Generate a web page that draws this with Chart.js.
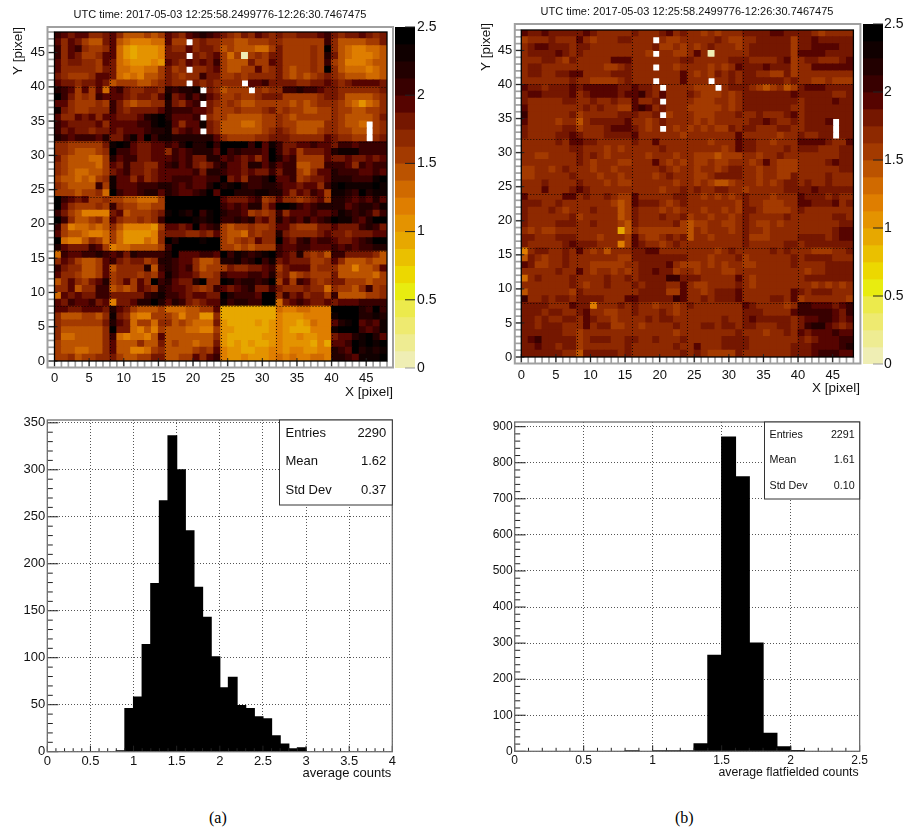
<!DOCTYPE html>
<html><head><meta charset="utf-8">
<style>
html,body{margin:0;padding:0;background:#fff;width:904px;height:832px;overflow:hidden}
canvas{position:absolute;display:block;filter:blur(0.4px)}
.cap{position:absolute;font:16px "Liberation Serif",serif;color:#000;line-height:18px}
</style>
<script src="https://cdn.jsdelivr.net/npm/chart.js@4/dist/chart.umd.js"></script>
</head><body>
<canvas id="heatA"></canvas><canvas id="barA"></canvas>
<canvas id="heatB"></canvas><canvas id="barB"></canvas>
<canvas id="histA"></canvas><canvas id="histB"></canvas>
<div class="cap" style="left:209px;top:809px">(a)</div>
<div class="cap" style="left:675px;top:809px">(b)</div>
<script>
// ---------- data ----------
const titleText = "UTC time: 2017-05-03 12:25:58.2499776-12:26:30.7467475";
// one character per pixel = colour band (base-20), '.' = empty. First row is Y=47, last is Y=0.
const heatRowsA = [
"gfeffdde fdbbbcbc fedfghgf edcedfed eddeeefg edeefede",
"fdfecbbe fba999aa fcc.dedd ccbbcccd dccccccg dbbbbcce",
"gdfgdccd fa878889 eddfdeed bcbbbaac eccccdcj dba99aab",
"gdfeccdf fa878889 eee.edef cac0cdce eccccdch eba999ab",
"fdeeddcf ea988898 fedfefeg cbbbeccf eccccdcg cb999abb",
"fdddddce eaa99aac ecd.ddef cbbccfcd ecbccdcj dbaaa9ab",
"edcccdff ea9a9bbc edcddgee ccdcdddd ecbcbcde dcbbbaab",
"feedeefe bcccbbcd edd.eded ddd.ffge eeeddeef edeffffe",
"hgfcfcfa fgeddeed hghhi.ed bccc.dcd dgghggfe edddddde",
"jgecdcgf ffedeedf iefhfhfe ccdccdee ecccccde edbbbbcd",
"ffdcccdc gecbccdd hedfg.ed cdcbbccc ccbcbcdd dcba8abd",
"iedccddd gedeeeef hgggffec ccdcccde cdccbbcc dccbbccd",
"fddfefdf feeefhij hfffg.dc cbbbbbcc dcbccccc dcbbbbce",
"gfeeeefd ffffggij ifdffied bbbaabcc dccbbbbd dcbba.cd",
"gefeedee fefffghh iefgf.ed bbbbbbcd edcbbbcd dccbb.cd",
"hgfgggfh eegifjgi ihhhhhhf dccccdde eedddddf eddcc.de",
"ddccccce ijifeeff gfhjhhjg jjjjgjfi geeffgff eggfgggg",
"ddcbbbcd jggfeeff dgfghhhf jghgggfj gefceeef hiiigggg",
"ecbbbaac hfggeeff fgfgeehh fgfefdfj hfgccccf eefeefef",
"dcbbbbac fegeeddf ghfgedeg hffehhfh fggbbccg ggfdgfgg",
"dcbaabbc efgeedef ffffgehh gffefeeg eggcbdff hgggffgf",
"cbbabacd iffdfdef fgggffgg jefdgghj ffgcdeef hhhgggij",
"dcbbbbgc ifffgggh hgfgffhj hijhgghh gffeffdg ijiiiiji",
"cccbccda jgffghhf hgffghjf jjhhhiih hfdfegfc iihgjhii",
"jgfefccd ccbbaaac jjjjjjjj feeefgcd fddcdefc hhgfgfhf",
"jfdcccdc gdccbbcc jjjjjjjj gfgfhhdf jjigfghh hhfghhgi",
"gecb9999 efbcccde ijihjgij hggfcdcd gdfffgff gihghgeg",
"jgdbbcdb fdccdcdg jjjjihij gghghefd hfgfhfgh jiigfhjj",
"gc9aabab db99998c ffefjfgh cbccdccd ffdcccee feeeghge",
"fcbba99a ca88889d eeeddedf cbbadcdd heddddef eedeeeff",
"ja99bdca ca888a9d jhjjjijj cbcdcfdd jfeghfgg feefghjj",
"hfeeegfc 9aabbbbc gjjjjjjj ccbcbccc gffggfff gfgfgghh",
"agffgghg fgehgggg hjfffggf jgihghij gfehdcdb ggeeeedb",
"dfecbbcf gedeecdh hgffdbbc hhighjgi efeeeccd fdbbbcbb",
"geddbbcf bddddhbg hgfgdbcc ceddeefg cefffcdd dbb9bbcf",
"fddcbbcf cdddcdcf igffeccd gfffggfh debcdccc ebbbbbac",
"bdfdcefh cdfcfdjg hfeehjdd jighhghj cfcgfdcd eecccbcc",
"ddfbddgg bcbcfedh gffedcdg fefgheeg edddedda dccbdgcd",
"afefeegg eeeeeghi ggfeffee jhgggfjj dgefdeec gbbbbccd",
"fegffgef 9eefhhjh fhgedeff ighhggjj aefgfeef efffgggg",
"ffeefffe hfecbbbc aaabbccf 77777777 a99aa999 jjjjhgjg",
"dbbbccbd ieda99cc cb9bb88d 77777777 98889999 ijjjhhih",
"dcccccce hfeaccad dbcbaaae 87777878 98878a99 fhijfgfi",
"dbbbbbbd jeea9b9c bbbaa99c 88777778 98777999 ijjjgfgi",
"daabbbbd ga9aa9bf bbbbbbbd 87777788 98898899 effhijhf",
"cbbbbbbd fbbbdbbe bcbbabbe 87878778 98888797 ffgjijij",
"cbbaabbd fbb99acd bbbbcdcf 98877889 98998899 hgfjhihi",
"ccdbccdd ecbbccee bbccfdfg 98898889 a9a99aa9 hhgfiiij"
];
const heatRowsB = [
"feefeeee efeddddd edddefde ddcdcddd eeeeffee eedcdddd",
"cdddeddd fdcdddee ddd.dccd ddddedcc ddeeeeec eefeeeee",
"deffeeed eedddddd dddeccdc dcdedddc deeeeeec eeffffee",
"deeeefed eddddddd ddc.ddcc dfd0dddd deeeeeec ffffeeee",
"dddeedce dddddfff ddddddde edddddee eddddefc deedddef",
"deeddddd ddddccde ddd.ddcd dddcdcdf eeefeeec ddffffff",
"deeddeef fddddeee dddddddf dcdceded eeddccec dddddddd",
"ddddddde ddccccde ddd.dddf ddd.dded eeeeeede ddccdccc",
"feedeeef efffffee feed.ddd dccc.dee edcbcdbc efffeeee",
"effeeeef deffffef fgedfddd edcccdcd eeeeeeef eeeeedde",
"edddddee ddeddedd fdde.ddd dcccddcd eeeeeeee deeeefee",
"fddddddd dededdcc fgfdeddd cccccdcd eeeeeeed deeeeeee",
"gdddddde cdddddee edde.cdd dcccddde ddedddef deeeeeee",
"fddddcdd bdeeeeef ddcdeddd dcdcdddd deefedde deeef.ee",
"edddddee cdddefff edcd.dcd cdcdcced eedddeed deeee.ee",
"eddddeef edddeeee fddddddc dddddddf dddddcdd eddee.ee",
"dddddedf feeddddd eddfdddd dddcdddf eeddcddd ffffeddf",
"ddddddde edddcdcd ddddeddd dddddcdf eedddded eeedddee",
"ddccdddd ededcddd ddcdddcd dcccbccc ddcddedd ddddddee",
"dddddddd edcdddcc dddfdcdc dccdccdd dcdfdccc ddddefee",
"ccddcded ddcddcdd ddddedcd dcddcdee ddcddccc ddddddee",
"ccddddde dddcddcd dddcdedd dccdeeee ddcddcce ddddeddd",
"dddedddd edddcdcc ddddddcd dcdcbbcd ddcdcdee deddeddd",
"dddfddde fedddddd ddddcdde deddeedd cdddddee eefeeeee",
"fdddddff deddedcc fdddddee ddcdcdcd edddcddd feeededd",
"eeeddedd dddddcbc feeedcde dddddddc eddcccdd ffeeefde",
"edddedcd ddedddbc edddcdcd ddcddcdc eedccccd eddddddd",
"edddddde cdddddbc edddedde cddcddcd eddddded dddddeed",
"eddddeee ddedddcb edddddec bccddccd edccdcdd ddddddee",
"dcdccddd dddddd7b dccccccc bdcdddcd eddcdddd dddddeff",
"eedddeee dddcdddc fdccdede bddcdddd ecccdddd eeeedeff",
"edddddef eeeddd9c feddcded dddddddd edddddee deeeeeee",
"9deedded fdcdbddd eeffdddd ddddcded ddddeded ddcccdde",
"bedcdded ddddddcc eeeeeeee dddcddde cdddddde deeeeddd",
"feccdded ddcccccd deeeefdc ccdcdcdd ccddddde ddddeeee",
"dddddedd fdcddcdc deefeecd dcdddccd dddddddd dcddeeee",
"adedddde ddddedde deeeegge eedddddf dcdddddd deeeeeee",
"ddddddde dcddeddd edeeeddf dccdddde dcdddddd ddcdcdcd",
"bddddddc eddddddd deeeeccf ddcdeeef dddddddf edeeeddd",
"gddedeed eeeedddf feeeeegf ddedeeef ddddeedf cddddddc",
"eeeedddf ee9ddded eddcddcd eddddddd feddddcd ggfffefg",
"eeedeedd efddccdd edddedcd dddddddd eeeddddf gggggfeg",
"eededdee dfeddcdd ddedeedd dddddedd efeeeeed effggfef",
"eedeeedd dfdeeccd dcdddded ddeedeed eedddeed eghhfede",
"eeeeeedd cddddddd ddddddcd ddddddde dddcdded fefffgff",
"efgeeeee cdeeedde eddeddde dddddeee eddddddd edefffgg",
"eefeedee cdddddde dddddded dfdddeee edddddde eeffffgh",
"eeeeeedd beeeeede ddddddde dedcccce ddddddde eefgggff"
];
const histBinsA = [0.8,0.9,1.0,1.1,1.2,1.3,1.4,1.5,1.6,1.7,1.8,1.9,2.0,2.1,2.2,2.3,2.4,2.5,2.6,2.7,2.8,2.9];
const histValsA = [1,46,58,114,179,267,336,300,235,175,143,101,68,79,49,46,37,35,17,8,3,4];
const histBinsB = [0.8,1.0,1.1,1.2,1.3,1.4,1.5,1.6,1.7,1.8,1.9,2.0];
const histValsB = [1,1,1,1,21,266,871,761,300,50,12,2];
const statNames = ["Entries","Mean","Std Dev"];
const statsA = ["2290","1.62","0.37"];
const statsB = ["2291","1.61","0.10"];
const bandColors = ["#efeeb4","#eeec92","#eeea70","#ecea4c","#e8ec10","#ecd800","#eac000","#e7a800",
"#e49300","#df7e00","#d06a00","#bb5300","#a33a00","#8e2900","#751700","#560400","#380000","#220000","#100000","#000000"];

// ---------- helpers ----------
Chart.defaults.font.family = '"Liberation Sans",Arial,sans-serif';
Chart.defaults.color = '#111';
const fmt = v => String(+(+v).toFixed(2));
const BAND = 0.125;
function cellsFrom(rows){
  const out=[];
  rows.forEach((row,r)=>{
    row.replace(/ /g,'').split('').forEach((ch,c)=>{
      if(ch==='.')return;
      const y=rows.length-1-r, level=parseInt(ch,20);
      out.push({x:c+0.5,y:[y,y+1],v:(level+0.5)*BAND,level});
    });
  });
  return out;
}
function place(id,left,top,w,h){
  const c=document.getElementById(id);
  c.width=w;c.height=h;c.style.left=left+'px';c.style.top=top+'px';
  c.style.width=w+'px';c.style.height=h+'px';
  return c;
}
function text(ctx,str,x,y,size,align,rot){
  ctx.save();ctx.fillStyle='#111';
  ctx.font=size+'px "Liberation Sans",Arial,sans-serif';
  ctx.textAlign=align||'left';ctx.textBaseline='middle';
  ctx.translate(x,y);if(rot)ctx.rotate(rot);
  ctx.fillText(str,0,0);ctx.restore();
}
const base = {responsive:false,animation:false,devicePixelRatio:1,events:[]};
const quiet = {legend:{display:false},tooltip:{enabled:false},title:{display:false}};

function heatChart(id,rows,g){
  const cells=cellsFrom(rows);
  const framePlugin={id:'frame'+id,
    afterDatasetsDraw(ch){
      const c=ch.ctx,a=ch.chartArea,sx=ch.scales.x,sy=ch.scales.y;
      c.save();
      c.strokeStyle='rgba(0,0,0,.85)';c.lineWidth=1;c.setLineDash([1,2]);
      [8,16,24,32,40].forEach(v=>{
        const px=Math.round(sx.getPixelForValue(v))+.5, py=Math.round(sy.getPixelForValue(v))+.5;
        c.beginPath();c.moveTo(px,a.top);c.lineTo(px,a.bottom);c.stroke();
        c.beginPath();c.moveTo(a.left,py);c.lineTo(a.right,py);c.stroke();
      });
      c.setLineDash([]);
      const L=a.left-g.gapL, B=a.bottom+g.gapB, T=a.top-g.gapT, R=a.right+g.gapR;
      for(let v=0;v<=48;v++){
        const px=sx.getPixelForValue(v),py=sy.getPixelForValue(v),maj=v%5===0;
        c.strokeStyle='#a0a0a0';c.lineWidth=1.7;
        c.beginPath();c.moveTo(px,a.bottom);c.lineTo(px,B);c.stroke();
        c.beginPath();c.moveTo(L,py);c.lineTo(a.left,py);c.stroke();
        if(maj&&v<48){
          c.strokeStyle='#222';c.lineWidth=1;
          c.beginPath();c.moveTo(px,a.bottom-3);c.lineTo(px,a.bottom+5);c.stroke();
          c.beginPath();c.moveTo(a.left+3,py);c.lineTo(a.left-6,py);c.stroke();
        }
      }
      c.strokeStyle='#a0a0a0';c.lineWidth=2;c.strokeRect(L,T,R-L,B-T);
      c.strokeStyle='#000';c.lineWidth=1.3;c.strokeRect(a.left,a.top,a.right-a.left,a.bottom-a.top);
      c.restore();
      text(c,titleText,g.titleX,g.titleY,11,'center');
      text(c,'X [pixel]',g.xLabX,g.xLabY,13.5,'right');
      text(c,'Y [pixel]',g.yLabX,g.yLabY,13.5,'right',-Math.PI/2);
    }};
  return new Chart(place(id,g.left,g.top,g.w,g.h),{
    type:'bar',
    data:{datasets:[{data:cells,backgroundColor:cells.map(d=>bandColors[d.level]),
      barPercentage:1,categoryPercentage:1,borderWidth:0,inflateAmount:0.5}]},
    options:{...base,layout:{padding:{left:0,top:g.plotTop,right:g.w-g.plotRight,bottom:0}},plugins:quiet,
      scales:{
        x:{type:'linear',min:0,max:48,offset:false,afterFit:s=>{s.height=g.h-g.plotBottom},
          grid:{display:false,drawTicks:false,offset:false},border:{display:false},
          ticks:{stepSize:5,includeBounds:false,padding:g.xPad,maxRotation:0,autoSkip:false,font:{size:13},callback:fmt}},
        y:{type:'linear',min:0,max:48,afterFit:s=>{s.width=g.plotLeft},
          grid:{display:false,drawTicks:false},border:{display:false},
          ticks:{stepSize:5,includeBounds:false,padding:g.yPad,autoSkip:false,font:{size:13},callback:fmt}}
      }},
    plugins:[framePlugin]});
}
function colorBar(id,g){
  const bands=bandColors.map((c,i)=>({x:0.5,y:[i*BAND,(i+1)*BAND]}));
  const p={id:'cb'+id,afterDatasetsDraw(ch){
    const c=ch.ctx,a=ch.chartArea,sy=ch.scales.y;
    c.save();
    [0,0.5,1,1.5,2,2.5].forEach(v=>{
      const py=sy.getPixelForValue(v);
      c.strokeStyle=v===0?'#999':'#222';c.lineWidth=1;
      c.beginPath();c.moveTo(a.right-10,py);c.lineTo(a.right,py);c.stroke();
    });
    c.restore();
  }};
  return new Chart(place(id,g.left,g.top,g.w,g.h),{
    type:'bar',
    data:{datasets:[{data:bands,backgroundColor:bandColors,barPercentage:1,categoryPercentage:1,borderWidth:0}]},
    options:{...base,layout:{padding:{left:g.plotLeft,top:g.plotTop,right:0,bottom:g.h-g.plotBottom}},plugins:quiet,
      scales:{
        x:{type:'linear',min:0,max:1,offset:false,display:false,ticks:{stepSize:1},grid:{offset:false}},
        y:{type:'linear',position:'right',min:0,max:2.5,afterFit:s=>{s.width=g.w-g.plotRight},
          grid:{display:false,drawTicks:false},border:{display:false},
          ticks:{stepSize:0.5,padding:g.yPad,autoSkip:false,font:{size:14},callback:fmt}}
      }},
    plugins:[p]});
}
function histChart(id,bins,vals,stats,g){
  const data=bins.map((b,i)=>({x:b+0.05,y:vals[i]}));
  const p={id:'h'+id,afterDatasetsDraw(ch){
    const c=ch.ctx,a=ch.chartArea,sx=ch.scales.x,sy=ch.scales.y;
    c.save();
    for(let i=0;i<=Math.round(g.xMax*10);i++){
      const px=sx.getPixelForValue(i/10),maj=i%5===0;
      c.strokeStyle='#222';c.lineWidth=1;
      c.beginPath();c.moveTo(px,a.bottom);c.lineTo(px,a.bottom-(maj?6:3.5));c.stroke();
    }
    for(let v=0;v<=g.yMax;v+=g.yMinor){
      const py=sy.getPixelForValue(v),maj=v%g.yStep===0;
      c.strokeStyle='#222';c.lineWidth=1;
      c.beginPath();c.moveTo(a.left,py);c.lineTo(a.left+(maj?11:5.5),py);c.stroke();
    }
    c.strokeStyle='#6e6e6e';c.lineWidth=1.3;c.strokeRect(a.left,a.top,a.right-a.left,a.bottom-a.top);
    const b=g.box;
    c.fillStyle='#fff';c.fillRect(b.x,b.y,a.right-b.x,b.h);
    c.strokeStyle='#333';c.lineWidth=1;c.strokeRect(b.x,b.y,a.right-b.x,b.h);
    c.restore();
    statNames.forEach((n,i)=>{
      text(c,n,b.x+b.inL,b.y+b.r0+i*b.dr,b.fs,'left');
      text(c,stats[i],a.right-b.inR,b.y+b.r0+i*b.dr,b.fs,'right');
    });
    text(c,g.xLabel,a.right-1,g.xLabY,g.xLabFs,'right');
  }};
  return new Chart(place(id,g.left,g.top,g.w,g.h),{
    type:'bar',
    data:{datasets:[{data,backgroundColor:'#000',barPercentage:1,categoryPercentage:1,borderWidth:0,inflateAmount:0.6}]},
    options:{...base,layout:{padding:{left:0,top:g.plotTop,right:g.w-g.plotRight,bottom:0}},plugins:quiet,
      scales:{
        x:{type:'linear',min:0,max:g.xMax,offset:false,afterFit:s=>{s.height=g.h-g.plotBottom},
          grid:{color:'#555',lineWidth:1,drawTicks:false,offset:false},border:{display:false,dash:[1,2]},
          ticks:{stepSize:0.5,padding:g.xPad,maxRotation:0,autoSkip:false,font:{size:g.fs},callback:fmt}},
        y:{type:'linear',min:0,max:g.yTop,afterFit:s=>{s.width=g.plotLeft},
          grid:{color:'#555',lineWidth:1,drawTicks:false},border:{display:false,dash:[1,2]},
          ticks:{stepSize:g.yStep,includeBounds:false,padding:g.yPad,autoSkip:false,font:{size:g.fs},callback:fmt}}
      }},
    plugins:[p]});
}

// ---------- panels ----------
heatChart('heatA',heatRowsA,{left:0,top:0,w:394,h:405,plotLeft:54.5,plotTop:32,plotRight:387,plotBottom:361,
  gapL:7,gapB:6.5,gapT:5,gapR:6,xPad:10,yPad:9.5,
  titleX:220,titleY:15,xLabX:393,xLabY:392,yLabX:18,yLabY:27});
colorBar('barA',{left:394,top:0,w:50,h:405,plotLeft:1,plotRight:21,plotTop:27,plotBottom:368,yPad:2});
heatChart('heatB',heatRowsB,{left:470,top:0,w:392,h:405,plotLeft:51.3,plotTop:30,plotRight:383.4,plotBottom:357,
  gapL:6.5,gapB:6.5,gapT:6,gapR:7,xPad:10.5,yPad:9,
  titleX:217,titleY:12,xLabX:390,xLabY:388,yLabX:16,yLabY:23});
colorBar('barB',{left:862,top:0,w:42,h:405,plotLeft:1,plotRight:21,plotTop:24,plotBottom:364,yPad:1});
histChart('histA',histBinsA,histValsA,statsA,{left:0,top:405,w:400,h:380,plotLeft:47.3,plotRight:392.3,plotTop:15,plotBottom:346.7,
  xMax:4,yTop:353,yMax:350,yStep:50,yMinor:10,fs:13,xPad:2,yPad:2,
  xLabel:'average counts',xLabY:368,xLabFs:13,
  box:{x:279.5,y:15,h:85,inL:6,inR:6,r0:13,dr:28.7,fs:13}});
histChart('histB',histBinsB,histValsB,statsB,{left:470,top:405,w:400,h:380,plotLeft:44.7,plotRight:390.3,plotTop:17,plotBottom:346.3,
  xMax:2.5,yTop:913,yMax:900,yStep:100,yMinor:20,fs:12,xPad:2,yPad:2,
  xLabel:'average flatfielded counts',xLabY:368,xLabFs:12.3,
  box:{x:294.5,y:17,h:77,inL:5,inR:5,r0:13,dr:25.5,fs:10.7}});
</script>
</body></html>
